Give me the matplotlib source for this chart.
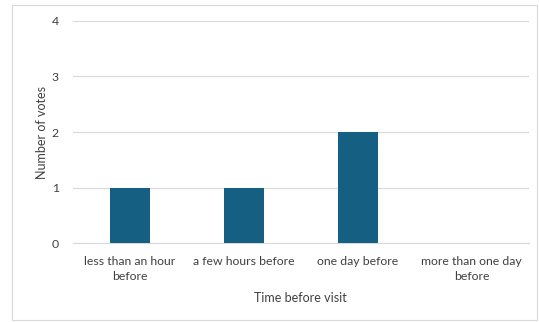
import matplotlib.pyplot as plt
from matplotlib.patches import Rectangle

# Datos
categories = ['less than an hour\nbefore', 'a few hours before', 'one day before', 'more than one day\nbefore']
votes = [1, 1, 2, 0]
yticks = [0, 1, 2, 3, 4]

plt.rcParams['font.family'] = ['Lato', 'DejaVu Sans']

fig = plt.figure(figsize=(5.39, 3.22), dpi=100)
ax = fig.add_axes([0.135, 0.245, 0.846, 0.69])

x = range(len(categories))
ax.bar(x, votes, width=0.35, color='#156082', zorder=3)

ax.set_xlim(-0.5, len(categories) - 0.5)
ax.set_ylim(0, 4)
ax.set_yticks(yticks)
ax.set_xticks(list(x))
ax.set_xticklabels(categories, fontsize=8.8, color='#404040', linespacing=1.5)
ax.tick_params(axis='y', labelsize=8.8, labelcolor='#404040', length=0, pad=10)
ax.tick_params(axis='x', length=0, pad=9)
ax.grid(axis='y', color='#d9d9d9', lw=0.8, zorder=0)

for s in ['top', 'right', 'left']:
    ax.spines[s].set_visible(False)
ax.spines['bottom'].set_color('#d9d9d9')

ax.set_ylabel('Number of votes', fontsize=9, color='#404040')
ax.yaxis.set_label_coords(-0.055, 0.5)
ax.set_xlabel('Time before visit', fontsize=9, color='#404040', labelpad=7)

# Marco del gráfico
fig.patches.append(Rectangle((12 / 539, 2 / 322), 525 / 539, 315 / 322,
                             transform=fig.transFigure, fill=False,
                             edgecolor='#d9d9d9', lw=0.8))

fig.savefig('out.png', dpi=100)
